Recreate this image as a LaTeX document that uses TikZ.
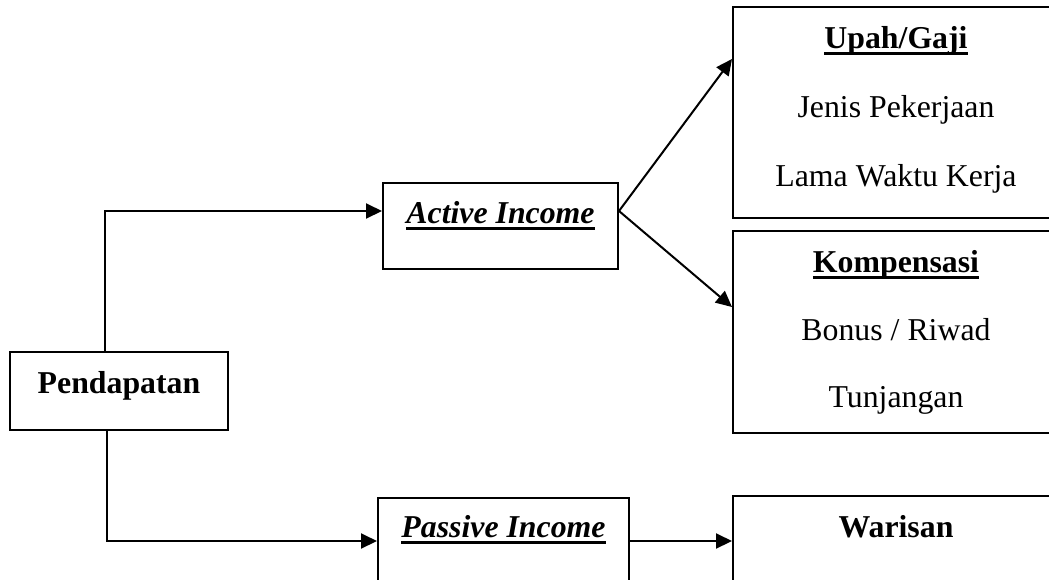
\documentclass[tikz,border=0pt]{standalone}
\usepackage{fontspec}
\setmainfont{Liberation Serif}
\usetikzlibrary{arrows.meta}

\newsavebox{\ulsave}
\newcommand{\thickul}[1]{\sbox{\ulsave}{#1}\rlap{\rule[-3.6pt]{\wd\ulsave}{1.5pt}}\usebox{\ulsave}}

\begin{document}
\begin{tikzpicture}[x=0.5pt,y=-0.5pt,
    box/.style={draw,line width=1pt,rectangle,inner sep=0pt},
    lbl/.style={anchor=base,inner sep=0pt,font=\fontsize{15.9pt}{19pt}\selectfont},
    arr/.style={line width=1pt,-{Triangle[length=8pt,width=7.5pt]}}]
    % Frame
    \useasboundingbox (0,0) rectangle (1049,579);
    \clip (0,0) rectangle (1049,579);

    % Boxes
    \node [box,minimum width=109pt,minimum height=39pt] (pend) at (119,391) {};
    \node [box,minimum width=117.5pt,minimum height=43pt] (active) at (500.5,226) {};
    \node [box,minimum width=125.5pt,minimum height=43pt] (passive) at (503.5,541) {};
    \node [box,minimum width=163pt,minimum height=105.5pt] (upah) at (896,112.5) {};
    \node [box,minimum width=163pt,minimum height=101pt] (komp) at (896,332) {};
    \node [box,minimum width=163pt,minimum height=45pt] (waris) at (896,541) {};

    % Box texts
    \node [lbl] (pendT) at (119,393) {\textbf{Pendapatan}};
    \node [lbl] (activeT) at (500.5,223) {\thickul{\textbf{\textit{Active Income}}}};
    \node [lbl] (passiveT) at (503.5,537) {\thickul{\textbf{\textit{Passive Income}}}};
    \node [lbl] (upahT) at (896,48) {\thickul{\textbf{Upah/Gaji}}};
    \node [lbl] (upahA) at (896,117) {Jenis Pekerjaan};
    \node [lbl] (upahB) at (896,186) {Lama Waktu Kerja};
    \node [lbl] (kompT) at (896,272) {\thickul{\textbf{Kompensasi}}};
    \node [lbl] (kompA) at (896,340) {Bonus / Riwad};
    \node [lbl] (kompB) at (896,407) {Tunjangan};
    \node [lbl] (warisT) at (896,537) {\textbf{Warisan}};

    % Bend and tip points
    \coordinate (aBend) at (105,211);
    \coordinate (pBend) at (107,541);
    \coordinate (upahTip) at (733,59);
    \coordinate (kompTip) at (733,307);

    % Connectors
    \draw [arr] (pend.north -| aBend) |- (active.west |- aBend);
    \draw [arr] (pend.south -| pBend) |- (passive.west);
    \draw [arr] (active.east |- aBend) -- (upah.west |- upahTip);
    \draw [arr] (active.east |- aBend) -- (komp.west |- kompTip);
    \draw [arr] (passive.east) -- (waris.west);

\end{tikzpicture}
\end{document}
